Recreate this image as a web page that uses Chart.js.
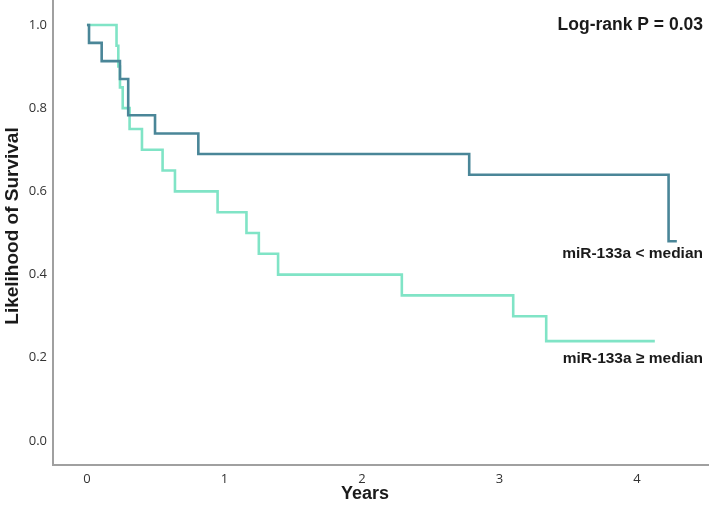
<!DOCTYPE html>
<html>
<head>
<meta charset="utf-8">
<script src="https://cdn.jsdelivr.net/npm/chart.js@4"></script>
<style>
  html, body { margin: 0; padding: 0; background: #fff; }
</style>
</head>
<body>
<canvas id="km" width="709" height="507"></canvas>
<script>
// survival curves: time (years) and survival after each event
var lowTimes = [0, 0.015, 0.107, 0.24, 0.30, 0.495, 0.81, 2.78, 4.23, 4.29];
var lowSurv  = [1, 0.957, 0.913, 0.870, 0.783, 0.739, 0.690, 0.640, 0.48, 0.48];
var highTimes = [0, 0.215, 0.228, 0.24, 0.26, 0.31, 0.40, 0.55, 0.64, 0.95, 1.16, 1.25, 1.39, 2.29, 3.10, 3.34, 4.13];
var highSurv  = [1, 0.95, 0.90, 0.85, 0.80, 0.75, 0.70, 0.65, 0.60, 0.55, 0.50, 0.45, 0.40, 0.35, 0.30, 0.24, 0.24];
var xTicks = [0, 1, 2, 3, 4];
var yTicks = [0, 0.2, 0.4, 0.6, 0.8, 1.0];
var seriesNames = ["miR-133a < median", "miR-133a \u2265 median"];
var pText = "Log-rank P = 0.03";

function pts(t, s) {
  return t.map(function (x, i) { return { x: x, y: s[i] }; });
}

var bold = "'Liberation Sans', Arial, sans-serif";

var textPlugin = {
  id: 'texts',
  afterDraw: function (chart) {
    var ctx = chart.ctx;
    ctx.save();
    ctx.fillStyle = '#1a1a1a';
    ctx.textBaseline = 'middle';
    ctx.textAlign = 'right';
    ctx.font = 'bold 17.5px ' + bold;
    ctx.fillText(pText, 703, 25);
    ctx.font = 'bold 15.5px ' + bold;
    ctx.fillText(seriesNames[0], 703, 254);
    ctx.fillText(seriesNames[1], 703, 359);
    // axis titles
    ctx.textAlign = 'center';
    ctx.font = 'bold 18px ' + bold;
    ctx.fillText('Years', 365, 494);
    ctx.translate(13, 226);
    ctx.rotate(-Math.PI / 2);
    ctx.font = 'bold 19px ' + bold;
    ctx.fillText('Likelihood of Survival', 0, 0);
    ctx.restore();
  }
};

new Chart(document.getElementById('km'), {
  type: 'scatter',
  data: {
    datasets: [{
      label: seriesNames[0],
      data: pts(lowTimes, lowSurv),
      showLine: true,
      stepped: true,
      borderColor: '#4a8698',
      borderWidth: 2.6,
      pointRadius: 0,
      fill: false
    }, {
      label: seriesNames[1],
      data: pts(highTimes, highSurv),
      showLine: true,
      stepped: true,
      borderColor: '#80e4c6',
      borderWidth: 2.6,
      pointRadius: 0,
      fill: false
    }]
  },
  options: {
    responsive: false,
    animation: false,
    layout: { padding: 0 },
    plugins: {
      legend: { display: false },
      tooltip: { enabled: false }
    },
    scales: {
      x: {
        type: 'linear',
        min: -0.247,
        max: 4.524,
        grid: { display: false, drawTicks: false },
        border: { display: true, color: '#a0a0a0', width: 2 },
        afterBuildTicks: function (s) { s.ticks = xTicks.map(function (v) { return { value: v }; }); },
        ticks: {
          padding: 6,
          color: '#333',
          font: { family: "'Open Sans', sans-serif", size: 13 },
          callback: function (v) { return v.toString(); }
        },
        afterFit: function (s) { s.height = 42; s.paddingLeft = 0; s.paddingRight = 0; }
      },
      y: {
        type: 'linear',
        min: -0.0577,
        max: 1.06,
        grid: { display: false, drawTicks: false },
        border: { display: true, color: '#a0a0a0', width: 2 },
        afterBuildTicks: function (s) { s.ticks = yTicks.map(function (v) { return { value: v }; }); },
        ticks: {
          padding: 6,
          color: '#333',
          font: { family: "'Open Sans', sans-serif", size: 13 },
          callback: function (v) { return v.toFixed(1); }
        },
        afterFit: function (s) { s.width = 53; s.paddingTop = 0; s.paddingBottom = 0; }
      }
    }
  },
  plugins: [textPlugin]
});
</script>
</body>
</html>
